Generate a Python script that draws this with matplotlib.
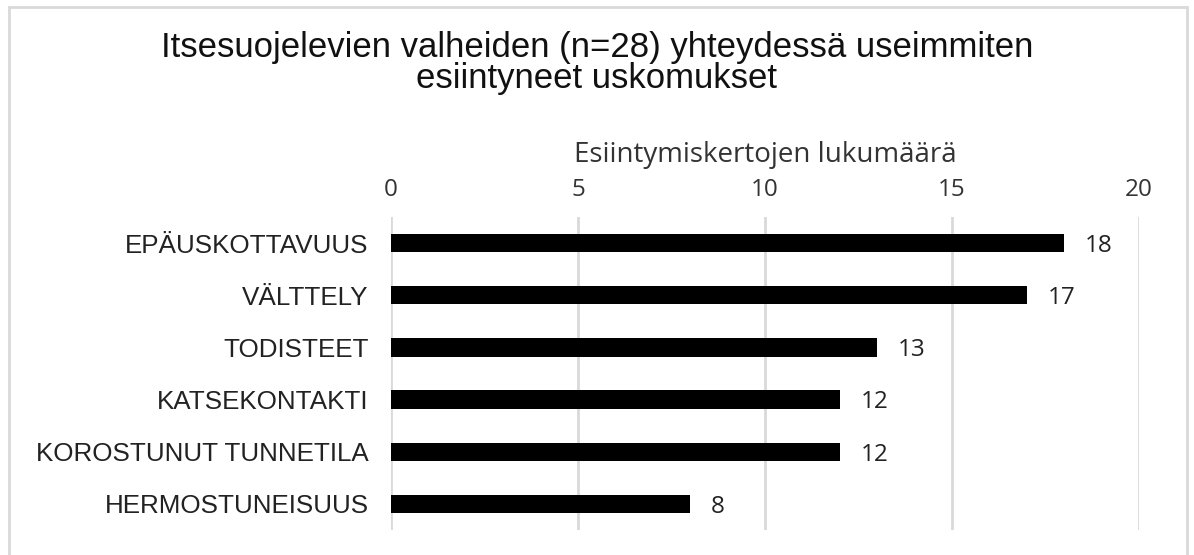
import matplotlib
matplotlib.use("Agg")
import matplotlib.pyplot as plt
from matplotlib.patches import Rectangle

categories = ["EPÄUSKOTTAVUUS", "VÄLTTELY", "TODISTEET", "KATSEKONTAKTI",
              "KOROSTUNUT TUNNETILA", "HERMOSTUNEISUUS"]
values = [18, 17, 13, 12, 12, 8]
xticks = [0, 5, 10, 15, 20]
title = "Itsesuojelevien valheiden (n=28) yhteydessä useimmiten\nesiintyneet uskomukset"
xlabel = "Esiintymiskertojen lukumäärä"

fig = plt.figure(figsize=(11.94, 5.55), dpi=100)
fig.patch.set_facecolor("white")
ax = fig.add_axes([391/1194, 1-530/555, (1139-391)/1194, (530-217)/555])

y = list(range(len(categories)))
ax.barh(y, values, height=0.35, color="black", zorder=3)
ax.set_xlim(0, 20)
ax.set_ylim(5.5, -0.5)
ax.set_yticks(y)
ax.set_yticklabels(categories, family="Liberation Sans", fontsize=18.7, color="#222222")
ax.set_xticks(xticks)
ax.set_xticklabels([str(t) for t in xticks], family="Open Sans", fontsize=17.5, color="#333333")
ax.xaxis.tick_top()
ax.xaxis.set_label_position("top")
ax.tick_params(axis="x", length=0, pad=11)
ax.tick_params(axis="y", length=0, pad=16)
ax.set_xlabel(xlabel, family="Open Sans", fontsize=20, color="#333333", labelpad=11)
for s in ax.spines.values():
    s.set_visible(False)
ax.grid(axis="x", color="#d9d9d9", linewidth=2, zorder=0)
ax.set_axisbelow(True)

for yi, v in zip(y, values):
    ax.annotate(str(v), (v, yi), xytext=(15, -2), textcoords="offset points",
                va="center", ha="left", family="Open Sans", fontsize=17.5, color="#222222")

fig.text(0.5, 1-63/555, title, ha="center", va="center", family="Liberation Sans",
         fontsize=25, color="#111111", linespacing=0.95)

fig.patches.append(Rectangle((9/1194, -0.01), (1187-9)/1194, 1.01-7/555,
                             transform=fig.transFigure, fill=False,
                             edgecolor="#d9d9d9", linewidth=2))

fig.savefig("out.png", dpi=100)
